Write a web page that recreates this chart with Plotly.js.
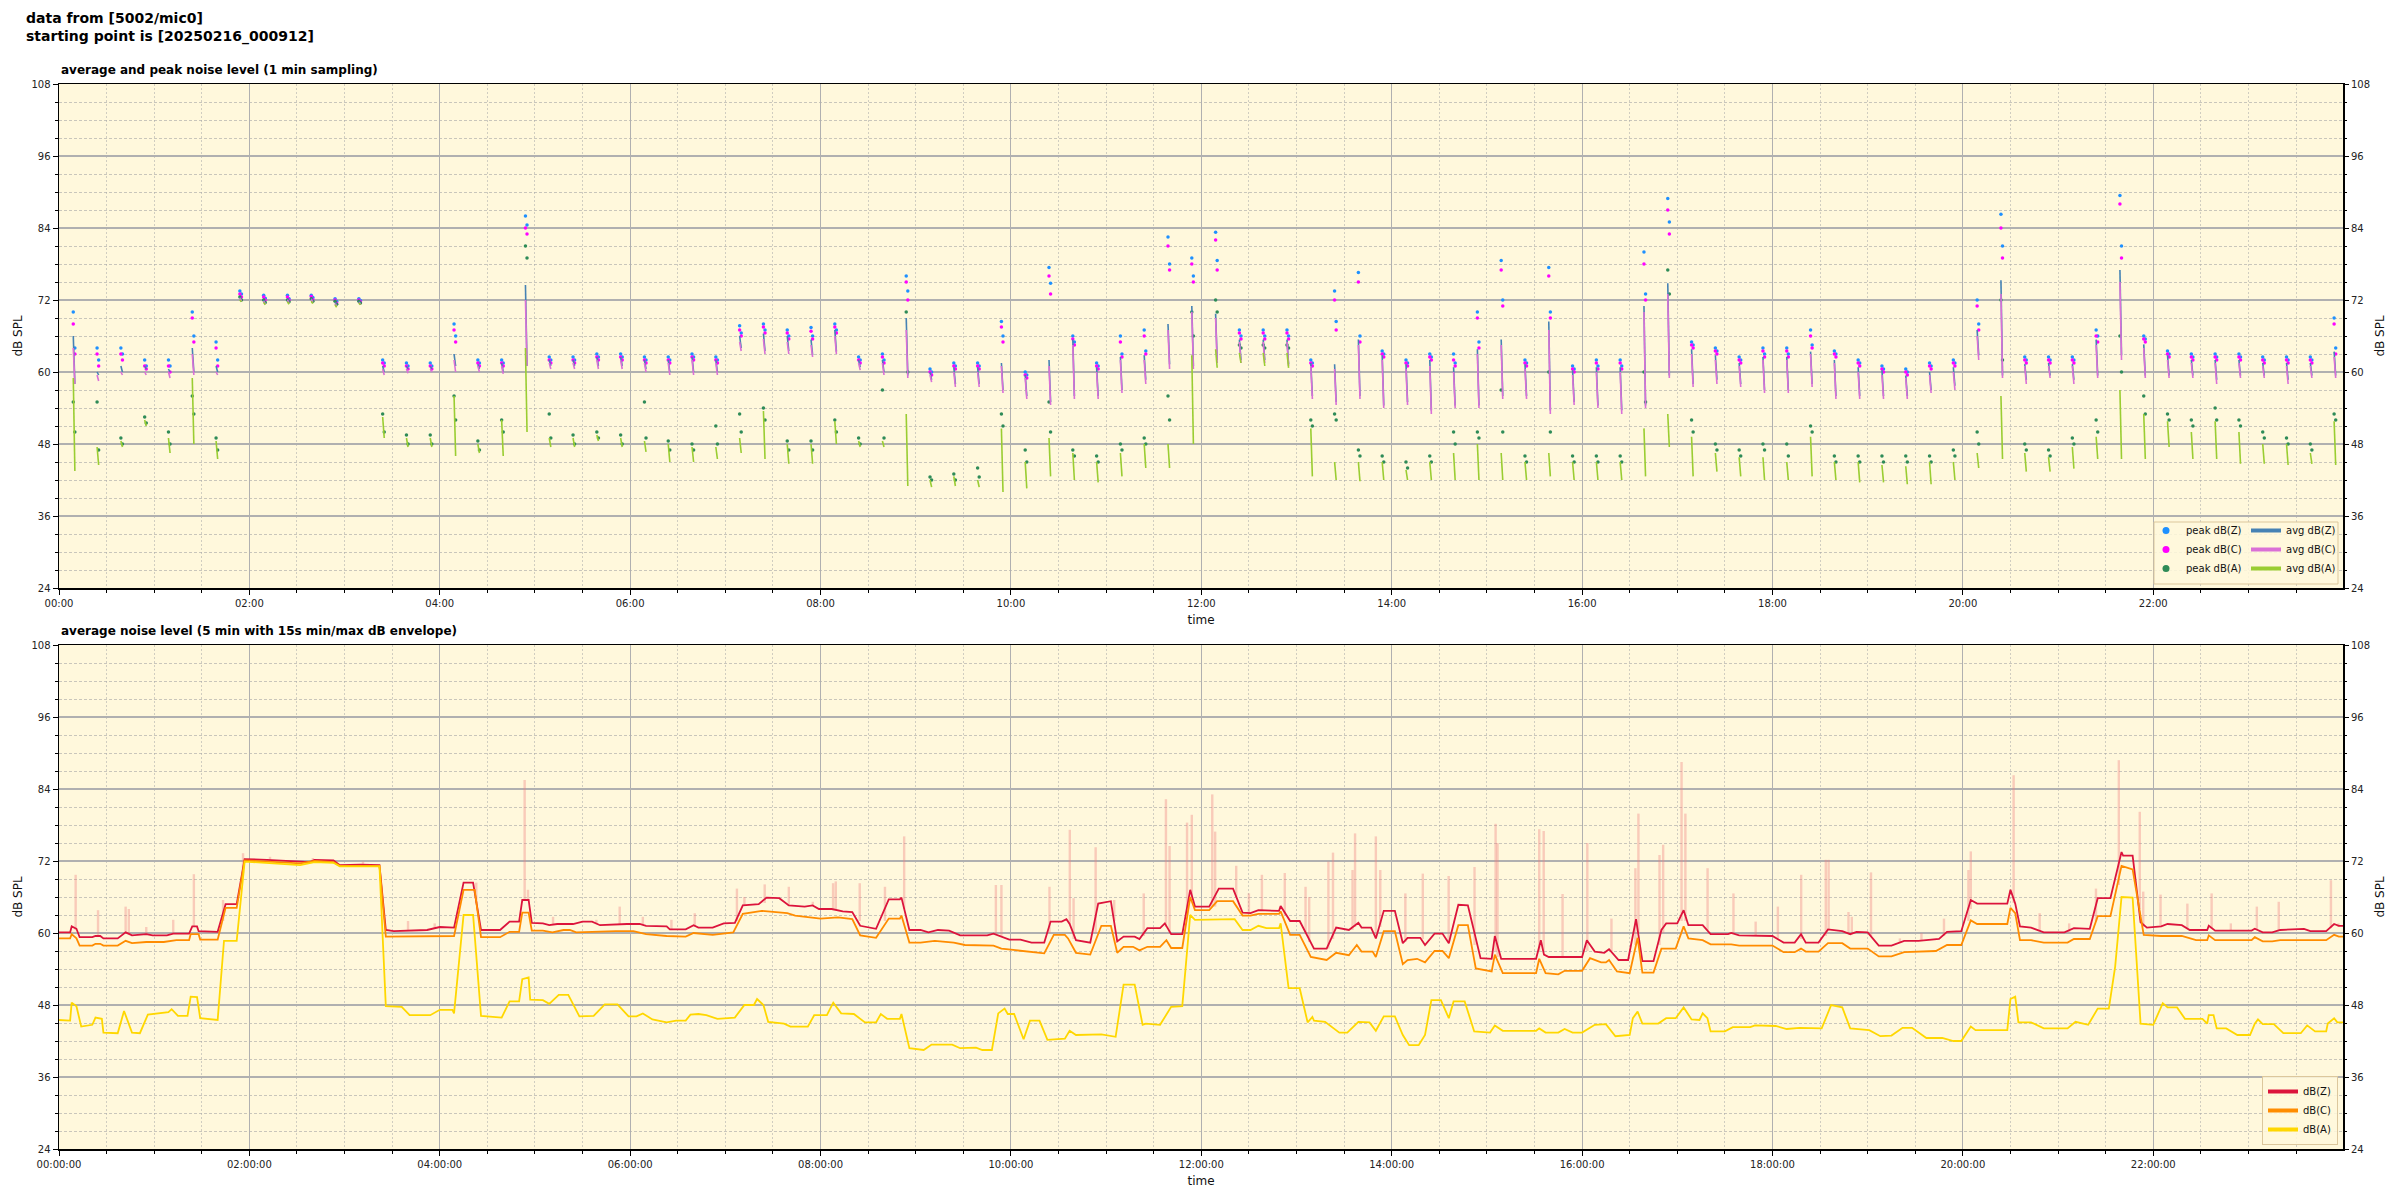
<!DOCTYPE html>
<html><head><meta charset="utf-8">
<script src="https://cdn.plot.ly/plotly-3.0.1.min.js"></script>
<style>html,body{margin:0;padding:0;background:#fff}#chart{width:2400px;height:1200px}</style>
</head><body><div id="chart"></div>
<script>
// ---------- bottom chart: 5 min averages (minutes after 00:00, dB) ----------
const zT = [0,7,8,11,13,21,23,26,28,37,42,46,55,59,68,72,82,84,87,88,100,105,112,117,131,152,158,161,173,177,190,202,206,211,232,240,249,255,261,266,278,284,290,292,296,298,305,309,314,324,330,336,341,358,366,370,383,385,395,400,403,412,419,426,431,441,446,454,460,470,475,479,487,494,500,505,515,523,530,531,536,543,548,554,561,568,585,589,594,599,606,613,621,625,632,635,637,641,650,655,663,667,671,678,681,686,694,697,701,708,713,716,725,731,740,746,751,756,769,770,776,782,791,799,805,813,819,821,827,830,835,842,847,850,858,861,867,872,876,882,888,896,903,905,909,931,934,936,939,960,963,968,974,977,983,989,994,998,1005,1010,1013,1020,1024,1027,1036,1041,1052,1054,1059,1080,1087,1094,1098,1101,1109,1115,1124,1129,1133,1140,1147,1155,1163,1172,1185,1190,1199,1205,1209,1228,1230,1233,1236,1243,1251,1264,1270,1280,1285,1293,1300,1301,1307,1312,1316,1325,1329,1338,1343,1354,1355,1359,1382,1384,1389,1395,1400,1415,1419,1429,1434,1437,1440];
const zV = [60.1,60.1,61.1,60.7,59.3,59.3,59.5,59.5,59.1,59.1,60.1,59.6,59.8,59.6,59.6,59.9,59.9,61.1,61.1,60.3,60.2,64.8,64.8,72.3,72.2,71.9,71.8,72.2,72.1,71.3,71.4,71.3,60.5,60.3,60.5,61,60.9,68.4,68.4,60.5,60.5,61.9,61.9,65.5,65.5,61.7,61.6,61.3,61.5,61.5,61.9,61.9,61.3,61.5,61.5,61.2,61.1,60.6,60.6,61.3,60.9,60.9,61.6,61.7,64.6,64.8,65.9,65.8,64.6,64.4,64.6,64,64,63.6,63.5,61.2,60.7,65.6,65.6,65.9,60.5,60.5,60.1,60.5,60.4,59.6,59.6,59.9,59.4,58.9,58.9,58.4,58.4,61.9,61.9,62.3,61.5,58.8,58.4,64.9,65.3,58.6,59.4,59.4,59,60.8,60.8,61.6,59.8,59.8,67.2,64.4,64.4,67.4,67.4,63.4,63.3,63.8,63.7,64.5,62,62,57.4,57.4,60.9,60.5,61.7,60.9,60.9,59.1,63.7,63.7,58.3,59.2,59.2,58,59.9,59.9,58.3,64.7,64.6,55.8,55.7,59.5,55.7,55.7,58.8,56.4,56,56,58.8,56.9,56.7,57.3,55.5,55.5,62.3,55.3,55.3,60.5,61.6,61.6,63.8,61.3,61.3,59.8,59.8,60,59.6,59.5,58.4,58.4,59.8,58.4,58.4,60.6,60.3,59.8,60.2,60.1,57.9,57.9,58.7,58.7,59,60.2,60.3,65.5,64.9,64.9,67.2,64.9,61.1,60.9,60.1,60.1,60.8,60.7,65.8,65.8,73.5,72.9,72.9,61.8,60.9,61.1,61.5,61.3,60.5,60.5,61.2,60.4,60.4,60.7,60.1,60.1,60.5,60.7,60.3,60.3,61.5,61.2,61.2];
const cT = [0,7,8,11,13,21,23,26,28,37,42,46,55,66,74,82,83,88,89,100,105,112,117,131,152,161,173,177,202,206,236,249,255,262,266,278,284,290,292,296,298,305,311,318,322,326,351,362,370,383,395,400,412,425,431,443,459,464,480,491,500,505,515,523,530,531,536,543,552,564,571,589,594,613,621,627,634,636,641,650,657,663,667,671,677,681,686,694,698,701,708,713,716,725,730,740,746,751,756,769,770,776,782,789,799,805,813,818,821,828,830,835,842,847,850,856,861,867,872,876,882,888,893,903,905,910,931,933,937,945,949,960,965,972,975,977,982,990,995,998,1005,1010,1019,1024,1027,1036,1041,1054,1059,1080,1087,1094,1098,1101,1109,1115,1124,1129,1140,1147,1155,1163,1183,1190,1199,1205,1209,1228,1230,1233,1236,1243,1251,1266,1270,1280,1285,1293,1300,1307,1314,1325,1338,1347,1354,1355,1359,1382,1384,1389,1395,1400,1429,1434,1437,1440];
const cV = [59.1,59.1,59.8,59.1,57.9,57.9,58.2,58.2,57.9,57.9,58.7,58.3,58.5,58.5,58.8,58.8,59.8,59.8,58.9,58.9,64.2,64.2,72.1,71.9,71.6,72,71.8,71.2,71.2,59.4,59.5,59.5,67.2,67.2,59.3,59.3,60.2,60.2,63.4,63.4,60.4,60.4,60.1,60.5,60.5,60.1,60.3,60.3,59.8,59.5,59.4,60,59.7,60.1,63.2,63.7,63.3,62.9,62.4,62.6,62.3,59.6,59.2,62.4,62.4,62.9,58.4,58.4,58.7,58.4,58,57.9,57.4,56.9,56.6,59.7,59.7,59.1,56.7,56.4,61.2,61.2,56.7,57.7,57.7,57.1,57.7,57.7,58.8,57.5,57.5,66,63.8,63.8,65.3,65.3,62.9,62.9,63.2,63.2,63.6,59.7,59.7,56,55.5,56.7,56.3,58,56.9,56.9,56,60.3,60.3,54.8,55.5,55.7,55.1,57,57,55.8,61.3,61.3,54.1,53.6,56.4,53.3,53.3,55.7,53.3,53.1,53.7,53.7,55.8,55.1,55.1,55.5,53.6,53.3,59.2,53.4,53.4,57.4,57.4,61.1,59.1,58.8,58.1,58.1,57.9,57.9,56.8,56.8,57.4,56.9,56.9,58.3,58.3,57.4,57.4,56.1,56.1,56.8,57,58,58,62.1,61.5,61.5,64.2,63.3,58.8,58.8,58.4,58.4,59,59,62.8,62.8,71.2,70.6,59.7,59.5,59.5,58.8,58.8,59.6,58.8,58.8,59.3,58.6,58.6,58.8,58.8,59.7,59.4,59.4];
const aT = [0,7,8,11,14,21,23,27,28,37,41,46,51,56,69,71,75,81,83,87,89,100,104,112,117,131,152,161,173,177,202,206,216,221,234,240,248,249,255,261,266,279,284,290,292,296,297,305,309,315,321,328,337,344,352,359,364,368,374,383,389,395,398,403,408,415,426,432,438,440,444,447,457,461,472,476,484,488,493,501,508,515,518,522,530,531,536,545,550,563,568,578,582,588,592,596,598,602,608,612,618,623,634,637,641,657,666,671,678,683,685,694,701,708,713,716,729,735,741,746,751,756,761,769,770,775,782,787,790,791,798,807,812,819,826,830,835,842,847,851,857,861,865,871,876,879,886,892,902,905,910,931,933,937,945,949,954,960,968,975,981,990,992,995,998,1008,1013,1019,1024,1029,1034,1036,1039,1041,1050,1055,1066,1069,1082,1089,1097,1111,1117,1124,1129,1141,1148,1155,1162,1168,1177,1187,1194,1199,1205,1208,1228,1230,1233,1235,1243,1251,1266,1271,1279,1285,1292,1296,1300,1307,1312,1320,1326,1329,1335,1340,1351,1354,1355,1358,1360,1366,1373,1381,1384,1386,1389,1396,1402,1413,1417,1422,1429,1430,1434,1436,1440];
const aV = [45.5,45.4,48.4,47.8,44.4,44.7,45.9,45.7,43.4,43.3,47,43.4,43.3,46.4,46.8,47.3,46.2,46.2,49.4,49.3,45.8,45.5,58.7,58.7,71.9,71.7,71.3,71.8,71.7,71.1,71.1,47.8,47.7,46.3,46.3,47.2,47.2,46.6,63,63,46.2,45.9,48.6,48.6,52.3,52.6,48.9,48.8,48.2,49.7,49.7,46.1,46.2,48.1,48.1,46.1,46.1,46.6,45.6,45.1,45.4,45.4,46.4,46.5,46.3,45.7,45.9,48,48,49,48,45.2,44.9,44.4,44.4,46.3,46.3,48.4,46.6,46.5,45.1,45.1,46.5,45.7,45.7,46.5,40.8,40.5,41.4,41.4,40.8,40.9,40.5,40.5,46.6,47.4,46.5,46.5,42.3,45.4,45.4,42.2,42.4,43.7,43,43.1,42.7,51.4,51.4,44.7,44.9,44.7,47.7,47.8,63,62.2,62.2,62.3,62.3,60.5,60.5,61.2,60.8,60.8,61.6,50.8,50.8,45.1,46,45.4,45.2,43.4,43.4,45.2,45.1,43.7,46.1,46.1,43,41.3,41.3,43,48.8,48.8,45.8,48.6,48.6,43.6,43.4,44.6,43.7,43.7,44.1,43.4,43.4,44,43.4,43.4,44.7,44.8,42.8,43,45.8,46.9,44.9,44.9,45.8,45.8,47.6,45.6,45.5,46.6,45.8,43.6,43.6,44.3,44.3,44.6,44.5,44,44.2,44.1,48,47.6,44.1,43.8,42.8,42.9,44.2,44.2,42.5,42.5,42,42,44.4,43.8,43.8,49,49.4,45.1,45.1,44.1,44.1,45.2,44.7,47.4,47.4,54.4,66,65.9,44.9,44.7,48.3,47.6,47.6,45.7,45.7,44.9,46.3,46.3,44.1,44.1,43,43,44.9,45.6,44.8,44.8,43.3,43.3,44.6,43.6,43.6,44.9,45.8,45.1,45.1];
// 15 s min/max envelope excursions (minute, low dB, high dB)
const spikeT  = [10.5,24.6,42,44,55,72,85,103.4,116,133,160,191.6,220,236.8,263,293.5,295.6,311.4,338.7,353.4,368,386,400.7,427.3,432,444.8,460,475.1,487.9,489.6,504.7,520.6,532.7,590.5,594,624.3,637.1,639.5,653.4,665.1,683.7,697.7,700,711,714,726.9,728.7,742,750,758.2,772.6,785.7,788,800.1,803,815.3,816.9,830,832.8,848.6,859.6,875.9,892.2,905.5,906.7,933,935.8,947.7,963.3,978.5,993.6,995.5,1008.8,1011.1,1022.7,1025.1,1039.1,1055.4,1069.4,1083.4,1098.1,1113.6,1115.4,1127.9,1130,1142.1,1160.3,1173.9,1188.1,1203.5,1205,1232,1248.4,1267,1283.9,1298.3,1311.5,1313.7,1324.6,1341.5,1356.8,1368.9,1385.3,1399.1,1432,1436.8];
const spikeLo = [60.5,59.5,60,59.8,59.8,59.9,61,62,70,72.2,72,71.4,60.4,60.7,65,65.5,65.5,61.4,61.5,61.4,61.4,60.6,61,62,64.6,65,64.6,64.5,64,64,62,62,64,59.8,59.4,60,61.5,59,60,62,59.5,61,60,63,66,64.4,64.4,66,63.3,63.8,63,60,58.5,57.4,59,60.5,61,59.5,61,58.5,59,58.5,58,57,56,57,57,56,57,57,58,60,58,60,62,62,60.5,59.8,59.5,59,59,59.5,60.5,60,60,59.5,58.4,58.7,59.5,62,64,65,60.3,60.1,62,68,64,61,61,60.8,60.8,60.4,60.6,60.3,60.8,61];
const spikeHi = [69.7,63.8,64.4,64,61,62.2,69.8,65.5,73.3,72.7,72.5,71.9,62,61.6,68.4,85.5,67.2,62.7,62.2,64.4,62.7,62.2,63.3,67.4,66,68.1,67.7,65.2,68.3,68.6,68.3,67.7,76.1,68,68,67.7,77.2,65.8,74.3,65.5,66.6,82.3,74.5,78.4,79.7,83.1,76.9,71.2,66.6,69.7,70,67.7,66,71.9,73.4,70.5,76.6,76.1,70.5,66.6,69.9,69.5,71,78.2,75,77.3,77,66.5,75,62.4,70.8,79.9,73,74.7,88.5,79.9,70.8,66.6,61.9,64.4,69.7,72.2,72.2,63.5,62.7,70.1,59.1,60,62.4,70.5,73.6,86.3,63.3,61.6,67.4,88.8,80.2,66.9,66.4,64.9,66.6,61.6,64.4,65.2,68.8,61.6];

// ---------- top chart: 1 min samples, one burst every 15 min ----------
const burstStart = ["00:09","00:24","00:39","00:54","01:09","01:24","01:39","01:54","02:09","02:24","02:39","02:54","03:09","03:24","03:39","03:54","04:09","04:24","04:39","04:54","05:09","05:24","05:39","05:54","06:09","06:24","06:39","06:54","07:09","07:24","07:39","07:54","08:09","08:24","08:39","08:54","09:09","09:24","09:39","09:54","10:09","10:24","10:39","10:54","11:09","11:24","11:39","11:54","12:09","12:24","12:39","12:54","13:09","13:24","13:39","13:54","14:09","14:24","14:39","14:54","15:09","15:24","15:39","15:54","16:09","16:24","16:39","16:54","17:09","17:24","17:39","17:54","18:09","18:24","18:39","18:54","19:09","19:24","19:39","19:54","20:09","20:24","20:39","20:54","21:09","21:24","21:39","21:54","22:09","22:24","22:39","22:54","23:09","23:24","23:39","23:54"];
const avgZ = [[66,58],[60,59.5],[61,60],[61,60.5],[60.5,60],[64,60],[61,60],[72.5,72],
[72,71.5],[72.2,71.7],[72.3,71.8],[71.6,71.2],[71.8,71.5],[61,60],[61,60.5],[61,60.5],
[63,61],[61.3,60.5],[61.5,60],[74.5,61],[62,61],[62,61],[62.5,61],[62.5,61],
[62,60.5],[62,60],[62.5,60],[62,60],[66,64],[66.4,63.5],[66,63.5],[65.4,62.8],
[67,63.4],[62,60.8],[62,60],[69,59.4],[60,58.7],[60.8,58],[60.8,58],[61.5,57],
[59.5,56],[62,55],[65.4,56],[60.8,56],[62.5,57],[62.8,58.7],[68,61.3],[71,61],
[69.7,62],[65.4,62],[65.4,62],[65.4,61.3],[61.5,56],[61.3,55],[65.4,56],[62.8,54.4],
[61.3,55],[62,53.6],[60.8,54.4],[63.8,54.4],[65.4,56],[61.3,56],[68.4,53.6],[60.3,55],
[60.8,54.4],[60.8,53.6],[71,54.4],[74.8,59.4],[63.8,58],[62.8,58.7],[61.5,58],[62.5,57],
[62.5,57],[63.4,58],[62,56],[60.8,56],[60.3,56],[59.4,56],[60,57],[60.8,57.7],
[67,62.8],[75.3,59.4],[61.3,58.7],[61.5,59.4],[61.3,58.7],[65.4,59.4],[77,62.8],[64.6,59.4],
[62.8,59.4],[62,59.4],[62,58.7],[62,59.4],[61.5,59.4],[61.5,58.7],[61.5,59.4],[63.4,59.4]];
const avgC = [[64,58],[59.5,58.5],[60,59.5],[60,59.5],[60,59],[63,59.5],[60,59.5],[72.3,71.8],
[71.8,71.3],[72,71.5],[72.1,71.6],[71.4,71],[71.6,71.3],[60.5,59.5],[60.5,59.8],[60.5,60],
[62,60],[61,60],[61,59.7],[72,61],[61.5,60.5],[61.5,60.5],[62,60.5],[62,60.5],
[61.5,60],[61.5,59.5],[62,59.5],[61.5,59.5],[65,63.5],[65.5,63],[65,63],[64.5,62.5],
[66,63],[61.5,60.3],[61.5,59.5],[67,59],[59.5,58.3],[60,57.5],[60,57.5],[61,56.5],
[59,55.5],[61,54.5],[64.5,55.5],[60,55.5],[62,56.5],[62,58],[67,60.5],[70,60.5],
[69,61.5],[65,61.5],[65,61.5],[65,61],[61,55.5],[60.5,54.5],[64.5,55.5],[62,54],
[60.5,54.5],[61,53],[60,54],[63,54],[64.5,55.5],[60.5,55.5],[67,53],[59.5,54.5],
[60,54],[60,53],[70,54],[73,59],[63,57.5],[62,58],[61,57.5],[62,56.5],
[62,56.5],[63,57.5],[61.5,55.5],[60,55.5],[59.5,55.5],[59,55.5],[59.5,56.5],[60,57],
[66,62],[73,59],[61,58],[61,59],[61,58],[64.5,59],[75,62],[64,59],
[62,59],[61.5,59],[61.5,58],[61.5,59],[61,59],[61,58],[61,59],[62.5,59]];
const avgA = [[59,43.5],[47.5,44.5],[48.5,47.5],[52,51],[49,46.5],[59,48],[48.5,45.5],[72,71.7],
[71.6,71.2],[71.7,71.3],[71.8,71.4],[71.2,70.8],[71.5,71.2],[52.5,49],[49,47.5],[49,47.5],
[56,46],[48,46.5],[52,46],[64,50],[49,47.5],[49,47.5],[49.5,48.5],[49,47.5],
[48.5,46.7],[48,45],[47.5,45],[47.5,45.5],[49,46.5],[53.5,45.5],[48,44.7],[48,44.7],
[51.8,48],[48.5,47.5],[48.5,47.5],[53,41],[42,40.8],[42.6,41],[42,40.8],[50.6,40],
[45,40.6],[49,42.6],[46.5,42],[45,41.6],[46.5,42.6],[48,44],[48,44],[62.8,48],
[63.8,60.7],[63.2,61.5],[63.2,61],[63.2,60.7],[50.6,42.6],[45,42],[45,41.8],[45,42],
[43.7,42],[45,42],[46.5,42],[48,42],[46.5,42],[45,42],[46.5,42.6],[45,42],
[45,42],[45,42],[50.6,42.6],[53,47.5],[49.2,42.6],[46.5,43.4],[45.8,42.6],[45.8,42],
[45,42],[49.2,42.6],[45,42],[45,41.6],[44.5,41.6],[44.3,41.3],[45,41.3],[45,42],
[46.5,44],[56,45.5],[46.5,43.4],[45.8,43.4],[47.5,43.9],[49.2,45.5],[57,45.5],[53,45.5],
[51.8,47.5],[50,45.5],[51.8,45.5],[50,44.7],[48,44.7],[48,44.5],[46.5,44.7],[51.8,44.5]];
const peakZ = [[70,64],[64,62],[64,63],[62,61],[62,61],[70,66],[65,62],[73.5,73],
[72.8,72.3],[72.8,72.2],[72.8,72.4],[72.2,71.8],[72.2,71.9],[62,61.5],[61.5,61],[61.5,61],
[68,66],[62,61.5],[62,61.5],[86,84.5],[62.5,62],[62.5,62],[63,62.5],[63,62.5],
[62.5,62],[62.5,62],[63,62.5],[62.5,62],[67.7,66.5],[68,67],[67,66],[67.4,66],
[68,67],[62.5,62],[63,62],[76,73.5],[60.5,60],[61.5,61],[61.5,61],[68.4,66],
[60,59.5],[77.4,74.8],[66,65],[61.5,61],[66,63],[67,63.5],[82.5,78],[79,76],
[83.3,78.6],[67,66],[67,66],[67,66],[62,61.5],[73.5,68.4],[76.6,66],[63.5,63],
[62,61.5],[63,62.5],[63,61.5],[70,65],[78.6,72],[62,61.5],[77.4,70],[61,60.5],
[62,61],[62,61],[80,73],[88.9,85],[65,64.5],[64,63.5],[62.5,62],[64,63],
[64,63],[67,64.5],[63.5,63],[62,61.5],[61,60.5],[60.5,60],[61.5,61],[62,61.5],
[72,68],[86.3,81],[62.5,62],[62.5,62],[62.5,62],[67,66],[89.4,81],[66,65.5],
[63.5,63],[63,62.5],[63,62.5],[63,62.5],[62.5,62],[62.5,62],[62.5,62],[69,64]];
const peakC = [[68,63],[63,61],[63,62],[61,60.5],[61,60],[69,65],[64,61],[73,72.5],
[72.5,72],[72.5,72],[72.6,72.1],[72,71.5],[72,71.7],[61.5,61],[61,60.5],[61,60.5],
[67,65],[61.5,61],[61.5,61],[84,83],[62,61.5],[62,61.5],[62.5,62],[62.5,62],
[62,61.5],[62,61.5],[62.5,62],[62,61.5],[67,66],[67.5,66.5],[66.5,65.5],[66.8,65.5],
[67.5,66.5],[62,61.5],[62.5,61.5],[75,72],[60,59.5],[61,60.5],[61,60.5],[67.5,65],
[59.5,59],[76,73],[65.5,64.5],[61,60.5],[65,62.5],[66,63],[81,77],[78,75],
[82,77],[66.5,65.5],[66.5,65.5],[66.5,65.5],[61.5,61],[72,67],[75,65],[63,62.5],
[61.5,61],[62.5,62],[62,61],[69,64],[77,71],[61.5,61],[76,69],[60.5,60],
[61.5,60.5],[61.5,60.5],[78,72],[87,83],[64.5,64],[63.5,63],[62,61.5],[63.5,62.5],
[63.5,62.5],[66,64],[63,62.5],[61.5,61],[60.5,60],[60,59.5],[61,60.5],[61.5,61],
[71,67],[84,79],[62,61.5],[62,61.5],[62,61.5],[66,65],[88,79],[65.5,65],
[63,62.5],[62.5,62],[62.5,62],[62.5,62],[62,61.5],[62,61.5],[62,61.5],[68,63]];
const peakA = [[55,50],[55,47],[49,48],[52.5,51.5],[50,48],[56,53],[49,47],[72.5,72],
[72,71.6],[72,71.7],[72.2,71.8],[71.8,71.3],[71.8,71.5],[53,50],[49.5,48],[49.5,48],
[56,52],[48.5,47],[52,50],[81,79],[53,49],[49.5,48],[50,49],[49.5,48],
[55,49],[48.5,47],[48,47],[51,48],[53,50],[54,52],[48.5,47],[48.5,47],
[52,50],[49,48],[57,49],[70,60],[42.5,42],[43,42],[44,42.5],[53,51],
[47,45],[55,50],[47,46],[46,45],[48,47],[49,48],[56,52],[70,66],
[72,70],[64.5,64],[64.5,64],[64.5,64],[52,51],[53,52],[47,46],[46,45],
[45,44],[46,45],[50,48],[50,49],[57,50],[46,45],[60,50],[46,45],
[46,45],[46,45],[60,55],[77,73],[52,50],[48,47],[47,46],[48,47],
[48,46],[51,50],[46,45],[46,45],[46,45],[46,45],[46,45],[47,46],
[50,48],[72,62],[48,47],[47,46],[49,48],[52,50],[66,60],[56,53],
[53,52],[52,51],[54,52],[52,51],[50,49],[49,48],[48,47],[53,52]];

// ---------- helpers ----------
const BASE = Date.UTC(2025,1,16,0,0,0);
function tm(m){ return new Date(BASE + Math.round(m*60)*1000).toISOString().slice(0,19).replace('T',' '); }
function hm(s){ const p=s.split(':'); return (+p[0])*60 + (+p[1]); }
function burstSeries(vals, gaps){
  const x=[], y=[];
  vals.forEach((b,k)=>{ const t0=hm(burstStart[k]); b.forEach((v,i)=>{ x.push(tm(t0+i)); y.push(v); }); if(gaps){x.push(null);y.push(null);} });
  return {x,y};
}

const FONT = 'DejaVu Sans, Liberation Sans, sans-serif';
const traces = [];
const peakSpec = [['peak dB(Z)',peakZ,'#1e90ff'],['peak dB(C)',peakC,'#ff00ff'],['peak dB(A)',peakA,'#2e8b57']];
const avgSpec  = [['avg dB(Z)',avgZ,'#4682b4'],['avg dB(C)',avgC,'#da70d6'],['avg dB(A)',avgA,'#9acd32']];
const botSpec  = [['dB(Z)',zT,zV,'#dc143c'],['dB(C)',cT,cV,'#ff8c00'],['dB(A)',aT,aV,'#ffd700']];

peakSpec.forEach(([n,d,c])=>{
  const s = burstSeries(d,false);
  traces.push({type:'scatter',mode:'markers',name:n,x:s.x,y:s.y,xaxis:'x',yaxis:'y',
    marker:{color:c,size:3.5},showlegend:false,hoverinfo:'skip'});
});
avgSpec.forEach(([n,d,c])=>{
  const s = burstSeries(d,true);
  traces.push({type:'scatter',mode:'lines',name:n,x:s.x,y:s.y,xaxis:'x',yaxis:'y',
    line:{color:c,width:1.6},connectgaps:false,showlegend:false,hoverinfo:'skip'});
});
(function(){
  const x=[], y=[];
  spikeT.forEach((t,i)=>{ x.push(tm(t),tm(t),null); y.push(spikeLo[i],spikeHi[i],null); });
  traces.push({type:'scatter',mode:'lines',x,y,xaxis:'x2',yaxis:'y2',showlegend:false,
    line:{color:'rgba(240,128,128,0.38)',width:2.4},connectgaps:false,hoverinfo:'skip'});
})();
botSpec.forEach(([n,t,v,c])=>{
  traces.push({type:'scatter',mode:'lines',name:n,x:t.map(tm),y:v,xaxis:'x2',yaxis:'y2',
    line:{color:c,width:1.8},showlegend:false,hoverinfo:'skip'});
});
// legend entries (thicker symbols, as in the original legend)
peakSpec.forEach(([n,d,c])=>traces.push({type:'scatter',mode:'markers',name:n,x:[null],y:[null],xaxis:'x',yaxis:'y',
  marker:{color:c,size:7},legend:'legend',hoverinfo:'skip'}));
avgSpec.forEach(([n,d,c])=>traces.push({type:'scatter',mode:'lines',name:n,x:[null],y:[null],xaxis:'x',yaxis:'y',
  line:{color:c,width:4},legend:'legend2',hoverinfo:'skip'}));
botSpec.forEach(([n,t,v,c])=>traces.push({type:'scatter',mode:'lines',name:n,x:[null],y:[null],xaxis:'x2',yaxis:'y2',
  line:{color:c,width:4},legend:'legend3',hoverinfo:'skip'}));
traces.push({type:'scatter',mode:'markers',x:[tm(0)],y:[null],xaxis:'x',yaxis:'y3',showlegend:false,hoverinfo:'skip'});
traces.push({type:'scatter',mode:'markers',x:[tm(0)],y:[null],xaxis:'x2',yaxis:'y4',showlegend:false,hoverinfo:'skip'});

const W=2400, H=1200;
const XL=59, XR=2343;
const dom = [XL/W, XR/W];
function py(px){ return 1 - px/H; }

function xax(fmt, anchor){
  return {domain:dom, anchor:anchor, type:'date', range:[tm(0), tm(1439.6)],
    tick0:tm(0), dtick:7200000, tickformat:fmt, ticks:'outside', ticklen:5, tickwidth:1, tickcolor:'#000',
    tickfont:{family:FONT,size:10,color:'#222'},
    showgrid:true, gridcolor:'#b0b0b0', gridwidth:1, zeroline:false,
    showline:true, linecolor:'#000', linewidth:1.5, mirror:true,
    minor:{dtick:1800000, tick0:tm(0), ticks:'outside', ticklen:3, tickcolor:'#000', showgrid:true, gridcolor:'rgba(170,170,170,0.55)', griddash:'2px,2px', gridwidth:1},
    title:{text:'time', font:{family:FONT,size:12,color:'#111'}, standoff:8},
    fixedrange:true};
}
function yax(anchor, d, side, overlay){
  const o = {domain:d, anchor:anchor, range:[24,108], tick0:24, dtick:12, ticks:'outside', ticklen:5, tickwidth:1, tickcolor:'#000',
    tickfont:{family:FONT,size:10,color:'#222'}, zeroline:false, fixedrange:true,
    minor:{dtick:3, ticks:'outside', ticklen:3, tickcolor:'#000', showgrid:!overlay, gridcolor:'rgba(165,165,165,0.6)', griddash:'3px,2px', gridwidth:1},
    title:{text:'dB SPL', font:{family:FONT,size:12,color:'#111'}, standoff:6}};
  if(overlay){ o.overlaying = overlay; o.side = side; o.showgrid=false; o.showline=false; }
  else { o.showgrid=true; o.gridcolor='#b0b0b0'; o.gridwidth=1.3; o.showline=true; o.linecolor='#000'; o.linewidth=1.5; o.mirror=true; }
  return o;
}
const topD = [py(588), py(84)];
const botD = [py(1149), py(645)];
const LEGFONT = {family:FONT,size:10,color:'#111'};

const layout = {
  width:W, height:H, margin:{l:0,r:0,t:0,b:0}, paper_bgcolor:'#ffffff', plot_bgcolor:'#fff8dc',
  font:{family:FONT, size:11, color:'#111'},
  xaxis: xax('%H:%M','y'),
  yaxis: yax('x', topD),
  yaxis3: yax('x', topD, 'right', 'y'),
  xaxis2: xax('%H:%M:%S','y2'),
  yaxis2: yax('x2', botD),
  yaxis4: yax('x2', botD, 'right', 'y2'),
  showlegend:true,
  legend: {x:2146/W, y:py(583), xanchor:'left', yanchor:'bottom', bgcolor:'rgba(0,0,0,0)', borderwidth:0,
    font:LEGFONT, tracegroupgap:0, itemwidth:30},
  legend2:{x:2246/W, y:py(583), xanchor:'left', yanchor:'bottom', bgcolor:'rgba(0,0,0,0)', borderwidth:0,
    font:LEGFONT, tracegroupgap:0, itemwidth:30},
  legend3:{x:2262/W, y:py(1145), xanchor:'left', yanchor:'bottom', bgcolor:'rgba(255,248,220,0.85)', bordercolor:'#dcc79c', borderwidth:1,
    font:LEGFONT, tracegroupgap:0, itemwidth:30},
  shapes:[{type:'rect', xref:'paper', yref:'paper', x0:2154/W, x1:2338/W, y0:py(584), y1:py(522),
    fillcolor:'rgba(255,248,220,0.85)', line:{color:'#dcc79c', width:1}, layer:'above'}],
  annotations:[
    {text:'<b>data from [5002/mic0]<br>starting point is [20250216_000912]</b>', xref:'paper', yref:'paper',
     x:24/W, y:py(8), xanchor:'left', yanchor:'top', align:'left', showarrow:false, font:{family:FONT,size:14,color:'#000'}},
    {text:'<b>average and peak noise level (1 min sampling)</b>', xref:'paper', yref:'paper',
     x:XL/W, y:py(79), xanchor:'left', yanchor:'bottom', showarrow:false, font:{family:FONT,size:12,color:'#000'}},
    {text:'<b>average noise level (5 min with 15s min/max dB envelope)</b>', xref:'paper', yref:'paper',
     x:XL/W, y:py(640), xanchor:'left', yanchor:'bottom', showarrow:false, font:{family:FONT,size:12,color:'#000'}}
  ]
};
Plotly.newPlot('chart', traces, layout, {staticPlot:true, displayModeBar:false});
</script></body></html>
